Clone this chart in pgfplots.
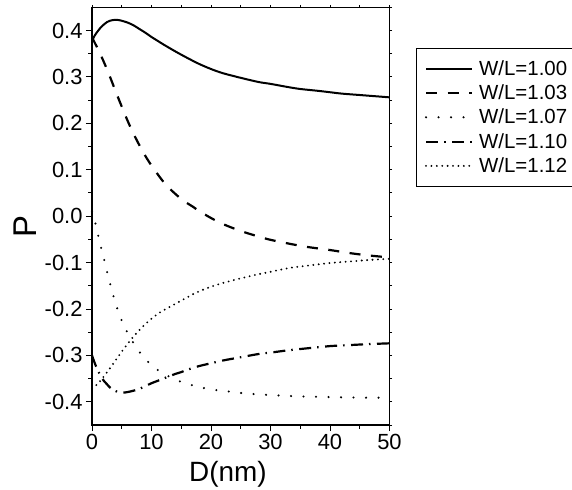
\documentclass[border=0pt]{standalone}
\usepackage{fontspec}
\setmainfont{Liberation Sans}
\usepackage{pgfplots}
\pgfplotsset{compat=1.18}

% curves: D (nm) against P
\pgfplotstableread{
x y
0 0.378
0.5 0.390
1 0.399
1.5 0.407
2 0.413
2.5 0.418
3 0.421
3.5 0.4225
4 0.423
4.5 0.4225
5 0.421
6 0.417
7 0.411
8 0.403
9 0.395
10 0.386
11 0.378
12 0.370
14 0.355
16 0.341
18 0.328
20 0.317
22 0.308
25 0.298
28 0.289
30 0.285
33 0.278
35 0.274
38 0.270
40 0.267
42 0.264
45 0.261
48 0.258
50 0.256
}\wla
\pgfplotstableread{
x y
0 0.385
1 0.360
2 0.332
3 0.301
4 0.268
5 0.236
6 0.205
7 0.177
8 0.152
9 0.129
10 0.109
11 0.091
12 0.074
13 0.060
14 0.048
15 0.037
16 0.028
17 0.020
18 0.011
20 -0.004
22 -0.017
25 -0.032
28 -0.044
30 -0.051
33 -0.059
36 -0.066
40 -0.073
43 -0.079
46 -0.084
50 -0.089
}\wlb
\pgfplotstableread{
x y
0 0.010
0.5 -0.012
1 -0.040
1.5 -0.066
2 -0.092
2.5 -0.118
3 -0.143
3.5 -0.167
4 -0.190
4.5 -0.208
5 -0.225
6 -0.252
7 -0.274
8 -0.293
9 -0.308
10 -0.321
11 -0.331
12 -0.339
13 -0.346
14 -0.352
15 -0.357
17 -0.365
19 -0.371
21 -0.375
23 -0.378
25 -0.381
28 -0.384
31 -0.386
34 -0.388
37 -0.389
40 -0.390
45 -0.391
50 -0.391
}\wlc
\pgfplotstableread{
x y
0 -0.300
0.5 -0.318
1 -0.333
1.5 -0.345
2 -0.355
2.5 -0.362
3 -0.369
3.5 -0.374
4 -0.377
4.5 -0.379
5 -0.380
5.5 -0.380
6 -0.379
7 -0.376
8 -0.372
9 -0.366
10 -0.360
11 -0.355
12 -0.350
13 -0.345
14 -0.340
15 -0.336
16 -0.331
18 -0.323
20 -0.317
22 -0.311
25 -0.304
28 -0.297
30 -0.294
33 -0.289
36 -0.285
40 -0.280
43 -0.278
46 -0.276
50 -0.274
}\wld
\pgfplotstableread{
x y
0 -0.371
1 -0.361
2 -0.345
3 -0.328
4 -0.310
5 -0.292
6 -0.275
7 -0.259
8 -0.245
9 -0.232
10 -0.221
11 -0.211
12 -0.203
13 -0.196
14 -0.189
15 -0.182
16 -0.175
17 -0.168
18 -0.162
20 -0.152
22 -0.144
25 -0.134
28 -0.125
30 -0.120
33 -0.112
36 -0.107
40 -0.101
44 -0.097
47 -0.094
50 -0.092
}\wle

\begin{document}
\begin{tikzpicture}
\useasboundingbox (-92bp,-65bp) rectangle (480bp,425bp);
\begin{axis}[
  scale only axis, width=297.5bp, height=417.7bp,
  xmin=0, xmax=50, ymin=-0.45, ymax=0.45,
  xtick={0,10,...,50}, ytick={-0.4,-0.3,...,0.41},
  minor tick num=1,
  xtick pos=bottom, ytick pos=left,
  tick align=outside,
  major tick length=6bp, minor tick length=3.5bp,
  every tick/.style={black, line width=0.9bp},
  axis line style={line width=1.1bp},
  /pgf/number format/assume math mode=true,
  yticklabel style={/pgf/number format/.cd, fixed, fixed zerofill, precision=1},
  ticklabel style={font=\fontsize{22}{26}\selectfont},
  ylabel={\fontsize{33}{38}\selectfont P},
  ylabel style={at={(axis description cs:-0.186,0.474)}, anchor=base},
  clip=false,
  legend style={at={(axis description cs:1.089,0.902)}, anchor=north west,
    draw=black, line width=0.8bp, font=\fontsize{20.5}{24}\selectfont,
    inner xsep=3.5bp, inner ysep=10bp, row sep=4bp,
    /tikz/every odd column/.append style={column sep=4bp},
    cells={anchor=west}},
  legend image code/.code={\path (-5bp,0bp); \draw[#1] (0bp,0bp) -- (46bp,0bp);},
]
\addplot[black, line width=2bp, smooth] table {\wla};
\addlegendentry{W/L=1.00}
\addplot[black, line width=2.2bp, dash pattern=on 11bp off 10.5bp, smooth] table {\wlb};
\addlegendentry{W/L=1.03}
\addplot[black, line width=2.3bp, line cap=round, dash pattern=on 0bp off 12.5bp, smooth] table {\wlc};
\addlegendentry{W/L=1.07}
\addplot[black, line width=2.2bp, dash pattern=on 12bp off 6bp on 1.5bp off 6.5bp, smooth] table {\wld};
\addlegendentry{W/L=1.10}
\addplot[black, line width=2.1bp, line cap=round, dash pattern=on 0bp off 5.4bp, smooth] table {\wle};
\addlegendentry{W/L=1.12}
\node[font=\fontsize{28}{32}\selectfont, anchor=base, inner sep=0pt]
  at (axis description cs:0.457,-0.1357) {D(nm)};
\end{axis}
% small ticks on the top and right edges
\begin{axis}[
  scale only axis, width=297.5bp, height=417.7bp,
  xmin=0, xmax=50, ymin=-0.45, ymax=0.45,
  xtick={0,5,...,50}, ytick={-0.45,-0.4,...,0.46},
  xtick pos=top, ytick pos=right,
  xticklabels={}, yticklabels={},
  tick align=outside, major tick length=2.5bp,
  every tick/.style={black, line width=0.9bp},
  axis line style={line width=1.1bp},
]
\end{axis}
\end{tikzpicture}
\end{document}
